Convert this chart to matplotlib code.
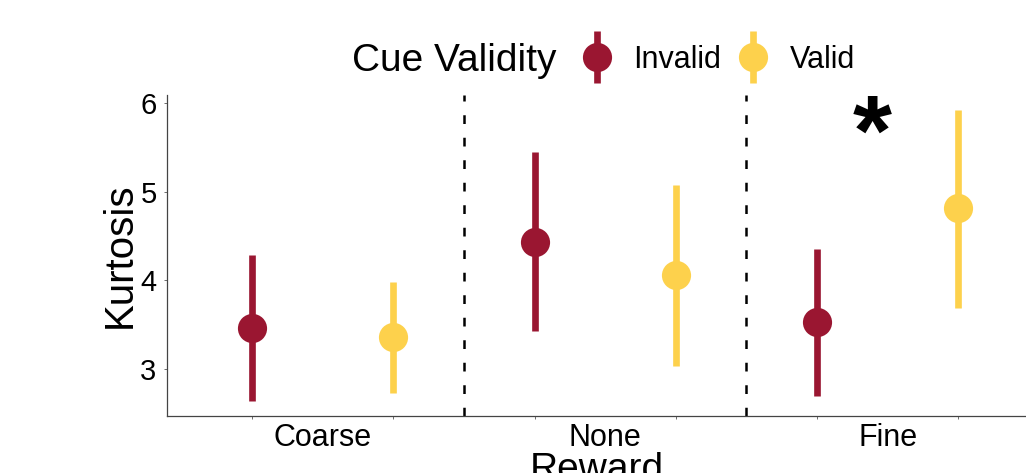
import numpy as np
import matplotlib
matplotlib.use("Agg")
import matplotlib.pyplot as plt
from matplotlib.container import ErrorbarContainer
from matplotlib.legend_handler import HandlerErrorbar

plt.rcParams['font.family'] = ['Liberation Sans', 'DejaVu Sans']

# kurtosis means and interval bounds per reward condition
rewards = ['Coarse', 'None', 'Fine']
validity = ['Invalid', 'Valid']
colors = {'Invalid': '#9A1631', 'Valid': '#FDD14C'}

means = {'Invalid': [3.46, 4.43, 3.53], 'Valid': [3.36, 4.06, 4.82]}
lower = {'Invalid': [2.64, 3.43, 2.70], 'Valid': [2.73, 3.03, 3.69]}
upper = {'Invalid': [4.29, 5.45, 4.35], 'Valid': [3.98, 5.07, 5.92]}

# significance marker
star_x, star_y = 2.945, 5.6

fig = plt.figure(figsize=(10.26, 4.73), dpi=100)
ax = fig.add_axes([0.1628, 0.1205, 0.8372, 0.6787])

x = np.arange(1, len(rewards) + 1)
dodge = 0.25
handles = []
for i, v in enumerate(validity):
    xs = x + (-dodge if i == 0 else dodge)
    m = np.array(means[v])
    yerr = [m - np.array(lower[v]), np.array(upper[v]) - m]
    h = ax.errorbar(xs, m, yerr=yerr, fmt='o', color=colors[v], ecolor=colors[v],
                    elinewidth=4.8, capsize=0, markersize=21, markeredgewidth=0,
                    label=v, zorder=3)
    handles.append(h)

# dashed separators between reward groups
for xv in x[:-1] + 0.5:
    ax.axvline(xv, color='black', lw=1.8, ls=(0, (3.5, 5.5)), zorder=1)

ax.text(star_x, star_y, '*', fontsize=72, fontweight='bold', ha='center', va='center')

ax.set_xlim(0.449, 3.49)
ax.set_ylim(2.47, 6.09)
ax.set_yticks([3, 4, 5, 6])
ax.tick_params(axis='y', labelsize=21, length=2.5, width=0.6, color='#555555', pad=5)

ax.set_xticks(x)
ax.set_xticklabels(rewards)
ax.set_xticks(np.sort(np.concatenate([x - dodge, x + dodge])), minor=True)
ax.tick_params(axis='x', which='major', length=0, labelsize=22, pad=5)
ax.tick_params(axis='x', which='minor', length=2.5, width=0.6, color='#555555')

for s in ['top', 'right']:
    ax.spines[s].set_visible(False)
for s in ['left', 'bottom']:
    ax.spines[s].set_color('#444444')
    ax.spines[s].set_linewidth(0.9)

ax.set_ylabel('Kurtosis', fontsize=29, labelpad=1)
ax.set_xlabel('Reward', fontsize=28, labelpad=-1)

fig.text(0.343, 0.872, 'Cue Validity', fontsize=28, ha='left', va='center')
fig.legend(handles=handles, labels=validity, loc='center left',
           bbox_to_anchor=(0.537, 0.874), ncol=2, frameon=False, fontsize=22,
           handlelength=1.2, columnspacing=0.45, handletextpad=0.6,
           handler_map={ErrorbarContainer: HandlerErrorbar(xerr_size=0.85)})

fig.savefig('out.png', dpi=100)
